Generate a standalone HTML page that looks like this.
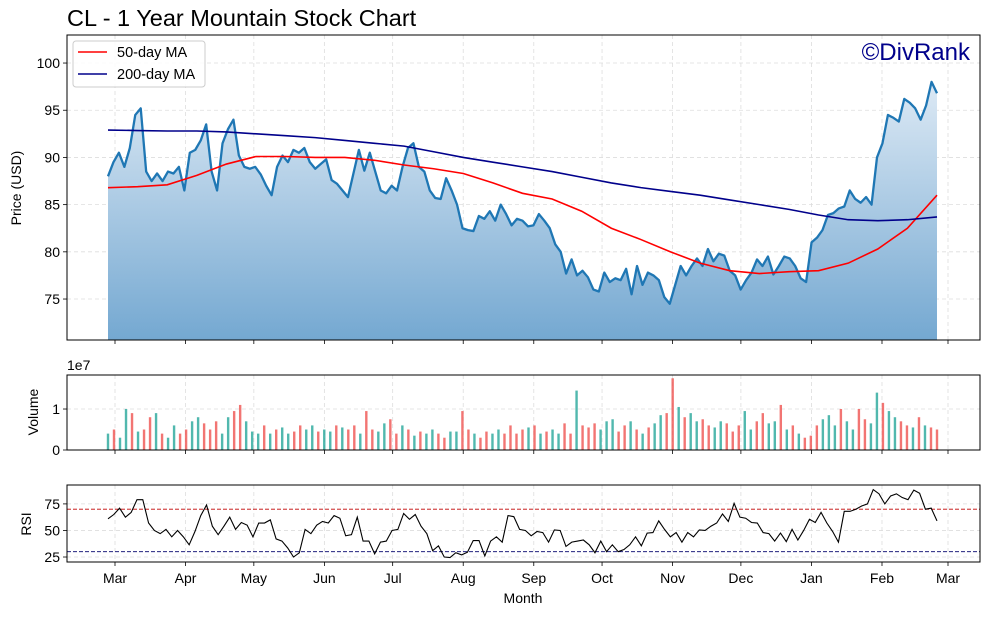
<!DOCTYPE html>
<html><head><meta charset="utf-8"><style>
html,body{margin:0;padding:0;background:#fff;}
svg text{font-family:"Liberation Sans","DejaVu Sans",sans-serif;}
</style></head><body>
<svg id="c" width="990" height="615" viewBox="0 0 990 615" xmlns="http://www.w3.org/2000/svg">
<defs>
<linearGradient id="fillg" gradientUnits="userSpaceOnUse" x1="0" y1="60" x2="0" y2="340">
<stop offset="0" stop-color="#e6eff8"/><stop offset="1" stop-color="#74a8d1"/>
</linearGradient>
</defs>
<text x="67" y="26" font-size="23.5" fill="#000">CL - 1 Year Mountain Stock Chart</text>
<g id="main"></g><g id="vol"></g><g id="rsi"></g>
</svg>
<script>
const monthLabels=["Mar","Apr","May","Jun","Jul","Aug","Sep","Oct","Nov","Dec","Jan","Feb","Mar"];
const monthDays=[0,31,61,92,122,153,184,214,245,275,306,337,366];
const priceTicks=[75,80,85,90,95,100];
const volTicks=[0,1];
const rsiTicks=[25,50,75];
const price=[88,89.5,90.5,89,91,94.5,95.2,88.5,87.5,88.3,87.5,88.5,88.3,89,86.5,90.5,90.8,91.8,93.5,88.5,86.5,91.5,93,94,90.2,89,88.8,89,88.2,87,86,89,90.2,89.5,90.8,90.5,91,89.5,88.8,89.3,89.8,87.6,87.2,86.5,85.8,88.3,90.8,88.6,90.5,88.5,86.5,86.2,87,86.5,89,91,91.5,89,88.5,86.5,85.7,85.6,87.8,86.5,85,82.5,82.3,82.2,83.8,83.5,84.3,83.3,85,84,82.8,83.5,83.3,82.7,82.8,84,83.3,82.5,80.8,80,77.7,79.2,77.5,78,77.3,76,75.8,77.8,76.8,77.2,77,78.2,75.5,78.5,76.5,77.8,77.5,77,75.2,74.5,76.5,78.5,77.5,78.5,79.3,78.5,80.3,79,79.8,79.6,78,77.5,76,77,77.8,79.2,78.5,79.5,77.6,78.5,79.5,79.3,78.5,77.2,76.8,81,81.5,82.3,83.9,84.1,84.6,84.8,86.5,85.6,85.2,85.8,85,90,91.5,94.5,94.2,93.8,96.2,95.8,95.2,94,95.5,98,96.8];
const ma50=[86.8,86.9,87.1,88.1,89.3,90.1,90.1,90,90,89.7,89.2,88.8,88.3,87.3,86.2,85.6,84.3,82.5,81.3,80,78.8,78,77.7,77.9,78,78.8,80.3,82.5,86];
const ma200=[92.9,92.85,92.8,92.8,92.7,92.5,92.3,92.1,91.8,91.5,91.2,90.6,90,89.5,89,88.5,87.9,87.3,86.8,86.4,86,85.5,85,84.5,83.9,83.4,83.3,83.4,83.7];
const volume=[4,5,3,10,9,4.5,5,8,9,4,3,6,4,5,7,8,6.5,5,7,4,8,9.5,11,7,4.5,4,6,4,5,5.5,4,4.5,6,5,6,4.5,5,4.5,6,5.5,5,6,4,9.5,5,4.5,6.5,7.5,4,6,5,3.5,4.5,4,5,4,3,4.5,4.5,9.5,5,4,3,4.5,4,5,4,6,4,5,5.5,6,4,4.5,5,4,6.5,4,14.5,6,5.5,6.5,5,7,7.5,4.5,6,7,5,4,5.5,6.5,8.5,9,17.5,10.5,8,9,7,7.5,6,5.5,7,6.5,4.5,6,9.5,5,7,9,6.5,7,11,5,6,4,3,3.5,6,7.5,8.5,6,10,7,5,10,7.5,6.5,14,11.5,9.5,8,7,6,5.5,8,6,5.5,5];
const volDir="uduududduduudduuddduudduuududuudduuduududdudduuddududuudduuddudduuddddududuudduddduuuddududuudduduudduuddduudduudududdduuuduudduuduuddudu";
const rsi=[61,65,71,62.5,67,79,79,57,50,47,51,44,50,44,36.5,49,64,74,54,46,54,62.5,51,57.5,55,44,57,57,60,42,40,33.5,25,29,51,47,55,58.5,57,64,61.5,45,46,62.5,40,40,28,39,40,50,51,66,60.5,65,54,47,31,35.5,25,24.5,29,27,29.5,40.5,40.5,26,40,44,39,64,63,51,50,45,49,48,39,50.5,50,35,39,40,41,36.5,29,40,30,36.5,30,32,36.5,44,35.5,47.5,48,59,51,44,48,39,48,44,50.5,50,54,57,65.5,58.5,75.5,62.5,61.5,57.5,57,48,47,40,47.5,39.5,51,41,50,60.5,57.5,67,57,49,39,68,68,70,73,75,88.5,84.5,75,82.5,84.5,81,79,88,85,70,71,59];

const NS="http://www.w3.org/2000/svg";
const svg=document.getElementById('c');
function mk(tag,attrs,parent){const e=document.createElementNS(NS,tag);for(const k in attrs)e.setAttribute(k,attrs[k]);(parent||svg).appendChild(e);return e;}
const X0=67,X1=980;
const FS=14;
const dayToX=d=>115+d*(948-115)/366;
const dataX=(i,n)=>108+i*(937-108)/(n-1);
const panels=[
 {id:'main',top:35,bot:340,min:70.66,max:102.97},
 {id:'vol',top:375,bot:450,min:0,max:1.83},
 {id:'rsi',top:485,bot:562,min:20.3,max:92.8}];
const ys=panels.map(p=>v=>p.bot-(v-p.min)/(p.max-p.min)*(p.bot-p.top));
const [yP,yV,yR]=ys;

function frame(p,idx,ticks,fy,fmt){
 const g=document.getElementById(p.id);
 monthDays.forEach(d=>{const x=dayToX(d);
  const l=mk('line',{x1:x,x2:x,y1:p.top,y2:p.bot,stroke:'#ddd','stroke-dasharray':'4,3','stroke-width':0.8},g);
  
  mk('line',{x1:x,x2:x,y1:p.bot,y2:p.bot+4,stroke:'#000','stroke-width':0.8},g);});
 ticks.forEach(t=>{const y=fy(t);
  const l=mk('line',{x1:X0,x2:X1,y1:y,y2:y,stroke:'#ddd','stroke-dasharray':'4,3','stroke-width':0.8},g);
  
  mk('line',{x1:X0-4,x2:X0,y1:y,y2:y,stroke:'#000','stroke-width':0.8},g);
  const tx=mk('text',{x:X0-7,y:y+5,'font-size':FS,'text-anchor':'end'},g);tx.textContent=fmt(t);
  });
 return g;
}
function border(p,g){const r=mk('rect',{x:X0,y:p.top,width:X1-X0,height:p.bot-p.top,fill:'none',stroke:'#000','stroke-width':1},g);
 }

// main
let g=frame(panels[0],0,priceTicks,yP,t=>t);
let pts=price.map((v,i)=>[dataX(i,price.length),yP(v)]);
let area=mk('path',{d:'M'+pts[0][0]+','+panels[0].bot+' L'+pts.map(p=>p.join(',')).join(' L')+' L'+pts[pts.length-1][0]+','+panels[0].bot+' Z',fill:'url(#fillg)'},g);

let pl=mk('polyline',{points:pts.map(p=>p.join(',')).join(' '),fill:'none',stroke:'#1f77b4','stroke-width':2.3,'stroke-linejoin':'round'},g);

let m5=mk('polyline',{points:ma50.map((v,i)=>dataX(i,ma50.length)+','+yP(v)).join(' '),fill:'none',stroke:'#ff0000','stroke-width':1.6},g);

let m2=mk('polyline',{points:ma200.map((v,i)=>dataX(i,ma200.length)+','+yP(v)).join(' '),fill:'none',stroke:'#00008b','stroke-width':1.6},g);

border(panels[0],g);
let yt=mk('text',{x:21,y:188,'font-size':FS,'text-anchor':'middle',transform:'rotate(-90 21 188)'},g);yt.textContent='Price (USD)';

let lg=mk('g',{},g);
mk('rect',{x:73,y:41,width:132,height:46,rx:3,fill:'#fff','fill-opacity':0.85,stroke:'#ccc'},lg);
mk('line',{x1:78,x2:107,y1:52,y2:52,stroke:'#ff0000','stroke-width':1.6},lg);
mk('line',{x1:78,x2:107,y1:74,y2:74,stroke:'#00008b','stroke-width':1.6},lg);
let l1=mk('text',{x:117,y:57,'font-size':14.5},lg);l1.textContent='50-day MA';
let l2=mk('text',{x:117,y:79,'font-size':14.5},lg);l2.textContent='200-day MA';
let wm=mk('text',{x:970,y:60,'font-size':24,'text-anchor':'end',fill:'#00008b'},g);wm.textContent='©DivRank';


// volume
g=frame(panels[1],1,volTicks,yV,t=>t);
volume.forEach((v,i)=>{const x=dataX(i,volume.length);const y=yV(v/10);
 const r=mk('rect',{x:x-1.2,y:y,width:2.4,height:panels[1].bot-y,fill:volDir[i]==='u'?'#26a69a':'#ef5350',opacity:0.8},g);
 });
border(panels[1],g);
let e7=mk('text',{x:67,y:370,'font-size':FS},g);e7.textContent='1e7';
let vt=mk('text',{x:38,y:412,'font-size':FS,'text-anchor':'middle',transform:'rotate(-90 38 412)'},g);vt.textContent='Volume';


// rsi
g=frame(panels[2],2,rsiTicks,yR,t=>t);
[[70,'#c00000'],[30,'#00006b']].forEach(([v,c])=>{const l=mk('line',{x1:X0,x2:X1,y1:yR(v),y2:yR(v),stroke:c,'stroke-dasharray':'4,2','stroke-width':0.9},g);
 });
let rl=mk('polyline',{points:rsi.map((v,i)=>dataX(i,rsi.length)+','+yR(v)).join(' '),fill:'none',stroke:'#000','stroke-width':1.1},g);

border(panels[2],g);
let rt=mk('text',{x:31,y:524,'font-size':FS,'text-anchor':'middle',transform:'rotate(-90 31 524)'},g);rt.textContent='RSI';

monthDays.forEach((d,i)=>{const t=mk('text',{x:dayToX(d),y:583,'font-size':FS,'text-anchor':'middle'},g);t.textContent=monthLabels[i];
 });
let xt=mk('text',{x:523,y:603,'font-size':FS,'text-anchor':'middle'},g);xt.textContent='Month';

</script>
</body></html>
